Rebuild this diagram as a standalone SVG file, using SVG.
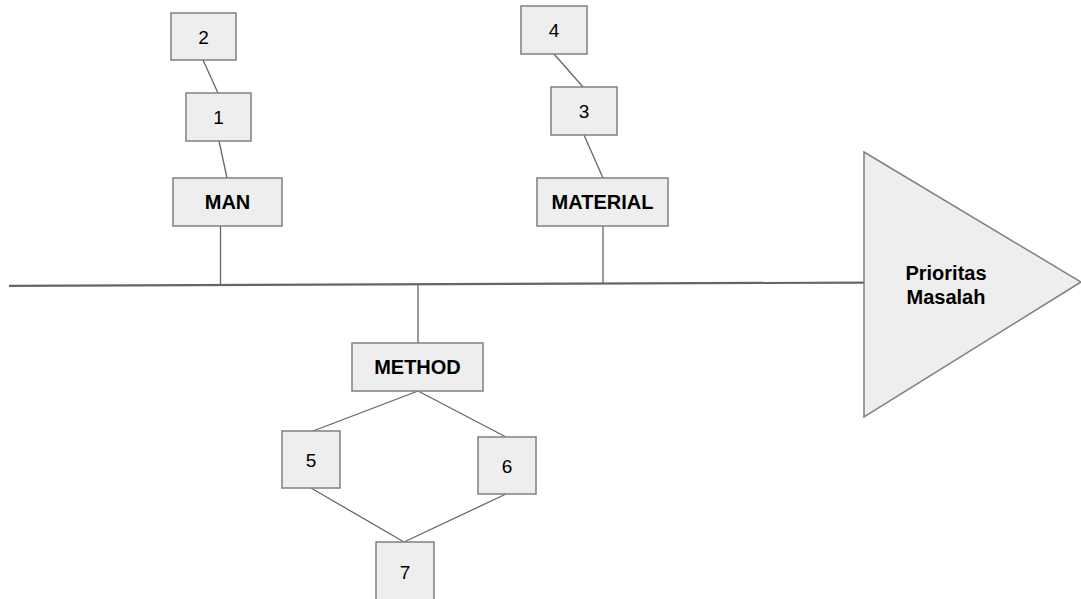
<svg xmlns="http://www.w3.org/2000/svg" width="1081" height="599" viewBox="0 0 1081 599">
<style>
.box{fill:#eeeeee;stroke:#808080;stroke-width:1.5}
.ln{stroke:#666666;stroke-width:1.3;fill:none}
.spine{stroke:#666666;stroke-width:2.2;fill:none}
.t{font-family:"Liberation Sans",Arial,sans-serif;font-size:19px;fill:#000;text-anchor:middle;dominant-baseline:central}
.b{font-weight:bold;font-size:20px}
</style>
<rect width="1081" height="599" fill="#ffffff"/>
<g id="connectors">
<path class="spine" d="M9 285.8 L864 282.6"/>
<path class="ln" d="M220.5 226 V284.5"/>
<path class="ln" d="M603 226 V283"/>
<path class="ln" d="M418 285 V343"/>
<path class="ln" d="M203 60 L218 93"/>
<path class="ln" d="M219 141 L227 178"/>
<path class="ln" d="M554 54 L583 87"/>
<path class="ln" d="M584 135 L603 178"/>
<path class="ln" d="M418 391 L313 431"/>
<path class="ln" d="M418 391 L506 437"/>
<path class="ln" d="M311 488 L404 542"/>
<path class="ln" d="M506 494 L404 542"/>
</g>
<g id="node-2"><rect class="box" x="171" y="13" width="65" height="47"/><text class="t" x="203.5" y="37">2</text></g>
<g id="node-1"><rect class="box" x="186" y="93" width="65" height="48"/><text class="t" x="218.5" y="117">1</text></g>
<g id="node-man"><rect class="box" x="173" y="178" width="109" height="48"/><text class="t b" x="227.5" y="202">MAN</text></g>
<g id="node-4"><rect class="box" x="521" y="6" width="66" height="48"/><text class="t" x="554" y="30">4</text></g>
<g id="node-3"><rect class="box" x="551" y="87" width="66" height="48"/><text class="t" x="584" y="111">3</text></g>
<g id="node-material"><rect class="box" x="537" y="178" width="131" height="48"/><text class="t b" x="602.5" y="202">MATERIAL</text></g>
<g id="node-method"><rect class="box" x="352" y="343" width="131" height="48"/><text class="t b" x="417.5" y="367">METHOD</text></g>
<g id="node-5"><rect class="box" x="282" y="431" width="58" height="57"/><text class="t" x="311" y="460">5</text></g>
<g id="node-6"><rect class="box" x="478" y="437" width="58" height="57"/><text class="t" x="507" y="466">6</text></g>
<g id="node-7"><rect class="box" x="376" y="542" width="58" height="62"/><text class="t" x="405" y="572">7</text></g>
<g id="node-prioritas"><polygon class="box" points="864,152 1081,282 864,417"/><text class="t b" x="946" y="273">Prioritas</text><text class="t b" x="946" y="297">Masalah</text></g>
</svg>
